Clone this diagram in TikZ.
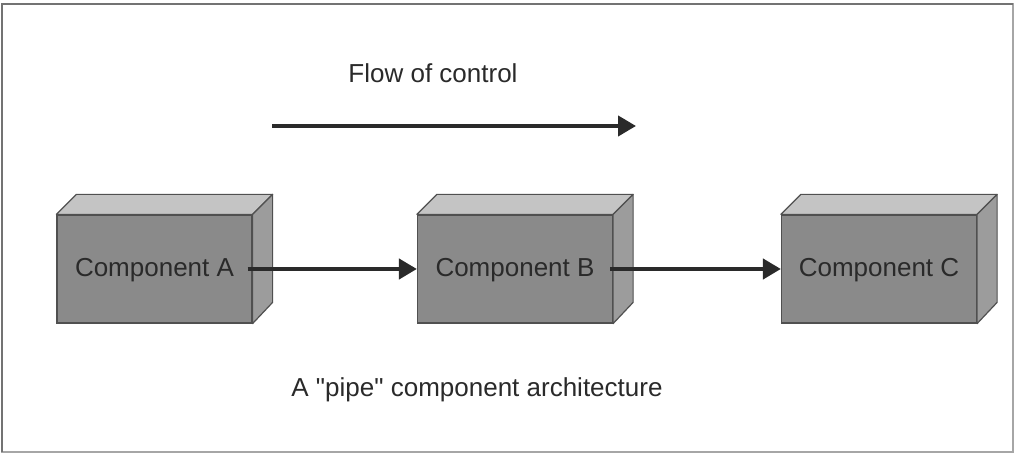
\documentclass[tikz,border=0pt]{standalone}
\usepackage{fontspec}
\setmainfont{Liberation Sans}
\usetikzlibrary{arrows.meta,calc}
\definecolor{frontc}{HTML}{8A8A8A}
\definecolor{topc}{HTML}{C4C4C4}
\definecolor{sidec}{HTML}{9C9C9C}
\definecolor{edgec}{HTML}{505050}
\definecolor{inkc}{HTML}{2A2A2A}
\tikzset{
  front/.style={draw=edgec, line width=1.2pt, fill=frontc, minimum width=195pt, minimum height=108pt, inner sep=0pt, text=inkc, font=\fontsize{26}{30}\selectfont},
  face/.style={draw=edgec, line width=1.2pt, line join=round},
  flow/.style={draw=inkc, line width=4.2pt, -{Triangle[length=18pt,width=20pt]}},
  label/.style={text=inkc, font=\fontsize{26}{30}\selectfont, inner sep=0pt, anchor=base}
}
\begin{document}
\begin{tikzpicture}[x=1pt,y=1pt]
\useasboundingbox (0,0) rectangle (1019,462);
\fill[white] (0,0) rectangle (1019,462);
\draw[gray!70, line width=1.5pt] (2,10) rectangle (1013,458);
\draw[gray!90!black, line width=1.5pt] (2,10) -- (2,458) -- (1013,458);
% boxes
\foreach \n/\x/\t in {A/154.5/Component A, B/515/Component B, C/879/Component C}{
  \node[front] (\n) at (\x,193) {};
  \draw[face, fill=topc] (\n.north west) -- ++(20,20) -- ($(\n.north east)+(20,20)$) -- (\n.north east) -- cycle;
  \draw[face, fill=sidec] (\n.north east) -- ++(20,20) -- ++(0,-108) -- (\n.south east) -- cycle;
  \node[label] at ([yshift=-8pt]\n.center) {\t};
}
% connectors
\draw[flow] ([xshift=-5pt]A.east) -- (B.west);
\draw[flow] ([xshift=-3pt]B.east) -- (C.west);
% flow of control
\coordinate (fs) at (272,336);
\coordinate (fe) at (636,336);
\draw[flow] (fs) -- (fe);
\node[label] (ft) at (433,379) {Flow of control};
\node[label] (cap) at (477,65) {A \textquotedbl pipe\textquotedbl{} component architecture};
\end{tikzpicture}
\end{document}
